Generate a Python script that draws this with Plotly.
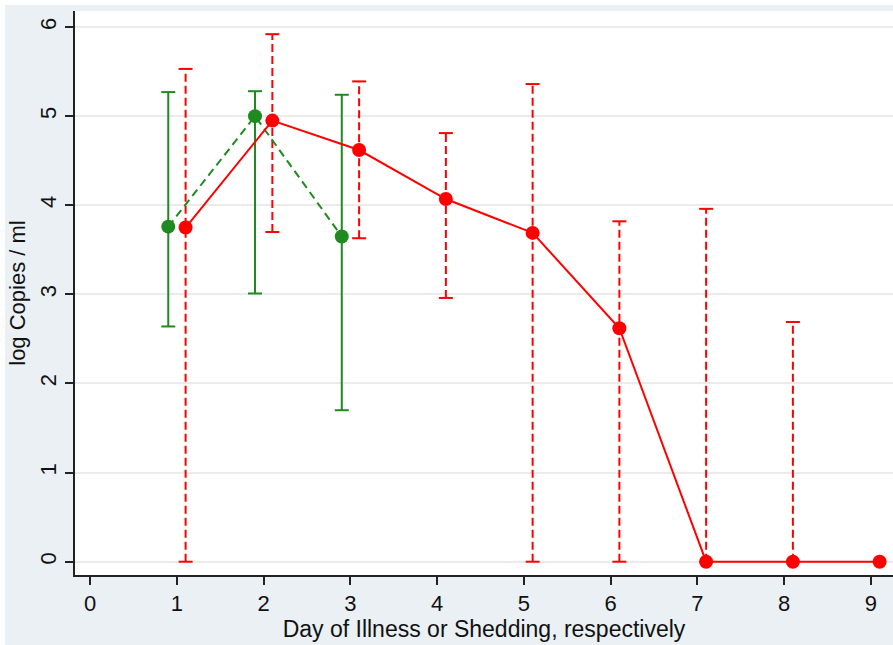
import plotly.graph_objects as go

# ---- data ----
red_x = [1.1, 2.1, 3.1, 4.1, 5.1, 6.1, 7.1, 8.1, 9.1]
red_y = [3.75, 4.95, 4.62, 4.07, 3.69, 2.62, 0.0, 0.0, 0.0]
red_hi = [5.53, 5.92, 5.39, 4.81, 5.36, 3.82, 3.96, 2.69, None]
red_lo = [0.0, 3.70, 3.63, 2.96, 0.0, 0.0, 0.0, 0.0, None]

green_x = [0.9, 1.9, 2.9]
green_y = [3.76, 5.00, 3.65]
green_hi = [5.27, 5.28, 5.24]
green_lo = [2.64, 3.01, 1.70]

x_ticks = [0, 1, 2, 3, 4, 5, 6, 7, 8, 9]
y_ticks = [0, 1, 2, 3, 4, 5, 6]

RED = "#ff0000"
GREEN = "#1f8a1f"
FONT = "Liberation Sans, Arial, sans-serif"


def bar_segments(xs, lo, hi):
    sx, sy = [], []
    for x, l, h in zip(xs, lo, hi):
        if h is None:
            continue
        sx += [x, x, None]
        sy += [l, h, None]
    return sx, sy


def cap_points(xs, lo, hi):
    cx, cy = [], []
    for x, l, h in zip(xs, lo, hi):
        if h is None:
            continue
        cx += [x, x]
        cy += [l, h]
    return cx, cy


fig = go.Figure()

# red error bars (dashed)
sx, sy = bar_segments(red_x, red_lo, red_hi)
fig.add_trace(go.Scatter(x=sx, y=sy, mode="lines",
                         line=dict(color=RED, width=2, dash="8px,4px"),
                         hoverinfo="skip", showlegend=False))
cx, cy = cap_points(red_x, red_lo, red_hi)
fig.add_trace(go.Scatter(x=cx, y=cy, mode="markers",
                         marker=dict(symbol="line-ew", size=10,
                                     line=dict(color=RED, width=2)),
                         hoverinfo="skip", showlegend=False))

# green error bars (solid)
sx, sy = bar_segments(green_x, green_lo, green_hi)
fig.add_trace(go.Scatter(x=sx, y=sy, mode="lines",
                         line=dict(color=GREEN, width=2),
                         hoverinfo="skip", showlegend=False))
cx, cy = cap_points(green_x, green_lo, green_hi)
fig.add_trace(go.Scatter(x=cx, y=cy, mode="markers",
                         marker=dict(symbol="line-ew", size=10,
                                     line=dict(color=GREEN, width=2)),
                         hoverinfo="skip", showlegend=False))

# green line
fig.add_trace(go.Scatter(x=green_x, y=green_y, mode="lines+markers",
                         line=dict(color=GREEN, width=2, dash="8px,5px"),
                         marker=dict(color=GREEN, size=14),
                         showlegend=False))

# red line
fig.add_trace(go.Scatter(x=red_x, y=red_y, mode="lines+markers",
                         line=dict(color=RED, width=2),
                         marker=dict(color=RED, size=14),
                         showlegend=False))

fig.update_layout(
    width=888, height=640,
    margin=dict(l=70, r=0, t=6, b=70),
    paper_bgcolor="#eaf0f4",
    plot_bgcolor="white",
    font=dict(family=FONT, size=22, color="#111111"),
    showlegend=False,
    xaxis=dict(
        range=[-0.175, 9.254],
        tickmode="array", tickvals=x_ticks,
        ticks="outside", ticklen=8, tickwidth=1.5, tickcolor="#222",
        showgrid=False, zeroline=False,
        showline=True, linecolor="#222", linewidth=1.5,
        tickfont=dict(size=22),
        title=dict(text="Day of Illness or Shedding, respectively",
                   font=dict(size=23), standoff=0),
    ),
    yaxis=dict(
        range=[-0.149, 6.18],
        tickmode="array", tickvals=y_ticks,
        ticks="outside", ticklen=8, tickwidth=1.5, tickcolor="#222",
        tickangle=-90,
        showgrid=True, gridcolor="#ebebeb", gridwidth=1.5,
        zeroline=False,
        showline=True, linecolor="#222", linewidth=1.5,
        tickfont=dict(size=22),
        title=dict(text="log Copies / ml", font=dict(size=22), standoff=6),
    ),
)

fig.write_html(
    "out.html",
    post_script="document.body.style.margin='5px 0 0 5px';"
                "document.body.style.overflow='hidden';",
)
